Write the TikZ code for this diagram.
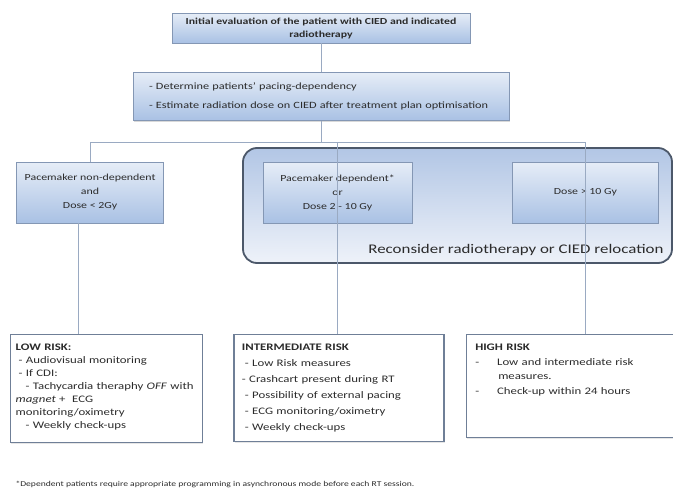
\documentclass[tikz,border=0pt]{standalone}
\usepackage{fontspec}
\setmainfont{Carlito}[FakeStretch=1.28]
\usepackage{xcolor}
\usepackage{tikz}
\usetikzlibrary{shapes,arrows,positioning,fit,backgrounds,shadows}

\definecolor{boxtop}{HTML}{E6EDF7}
\definecolor{boxbot}{HTML}{A9C1E4}
\definecolor{boxline}{HTML}{8497B4}
\definecolor{zonetop}{HTML}{B2C6E5}
\definecolor{zonebot}{HTML}{EEF2F9}
\definecolor{zoneline}{HTML}{4C586A}
\definecolor{riskline}{HTML}{6F7F97}
\definecolor{wire}{HTML}{9AAAC2}
\definecolor{ink}{HTML}{2B2B2B}

\begin{document}
\begin{tikzpicture}[
    x=1pt, y=-1pt,
    text=ink,
    stage/.style={rectangle, draw=boxline, top color=boxtop, bottom color=boxbot, align=center,
        drop shadow={opacity=0.3, shadow xshift=0.8pt, shadow yshift=-1.2pt}},
    zone/.style={rectangle, rounded corners=14pt, draw=zoneline, line width=1.8pt, top color=zonetop, bottom color=zonebot},
    risk/.style={rectangle, draw=riskline, line width=1.3pt, fill=white, align=left, anchor=north west, text height=12pt,
        drop shadow={opacity=0.2, shadow xshift=0.8pt, shadow yshift=-1pt}},
    wire/.style={draw=wire, line width=0.8pt}
]
\useasboundingbox (0,0) rectangle (673,498);

\node[stage, minimum width=298, minimum height=30, font=\bfseries\fontsize{9.2}{13}\selectfont] (init) at (321,28)
    {Initial evaluation of the patient with CIED and indicated\\radiotherapy};
\node[stage, below=29pt of init, minimum height=48, inner xsep=16pt, text width=344pt, align=left, font=\fontsize{9.6}{19}\selectfont] (plan)
    {- Determine patients’ pacing-dependency\\- Estimate radiation dose on CIED after treatment plan optimisation};

\node[zone, minimum width=429, minimum height=115] (relocate) at (457.5,205.5) {};
\node[anchor=base east, font=\fontsize{13.2}{15}\selectfont] (relabel) at (667,253) {Reconsider radiotherapy or CIED relocation};

\node[stage, minimum width=149, minimum height=61, font=\fontsize{9.3}{14}\selectfont] (pd) at (337.5,192.5)
    {Pacemaker dependent*\\or\\Dose 2 - 10 Gy};
\node[stage, left=99pt of pd, minimum width=147, minimum height=61, font=\fontsize{9.3}{14}\selectfont] (nd)
    {Pacemaker non-dependent\\and\\Dose < 2Gy};
\node[stage, right=100pt of pd, minimum width=146, minimum height=61, font=\fontsize{9.3}{14}\selectfont] (hd)
    {Dose > 10 Gy};

\node[risk, inner xsep=5pt, inner ysep=4pt, text width=182pt, text depth=88pt, font=\fontsize{10}{13}\selectfont] (low) at (10,334)
    {\textbf{LOW RISK:}\\
     \hspace*{3pt}- Audiovisual monitoring\\
     \hspace*{3pt}- If CDI:\\
     \hspace*{10pt}- Tachycardia theraphy \textit{OFF} with\\
     \textit{magnet} + \ ECG\\
     monitoring/oximetry\\
     \hspace*{10pt}- Weekly check-ups};
\node[risk, right=30pt of low.north east, anchor=north west, inner xsep=8pt, inner ysep=4pt, text width=194pt, text depth=87pt, font=\fontsize{10}{16}\selectfont] (mid)
    {\textbf{INTERMEDIATE RISK}\\
     \hspace*{3pt}- Low Risk measures\\
     - Crashcart present during RT\\
     \hspace*{3pt}- Possibility of external pacing\\
     \hspace*{3pt}- ECG monitoring/oximetry\\
     \hspace*{3pt}- Weekly check-ups};
\node[risk, right=21pt of mid.north east, anchor=north west, inner xsep=9pt, inner ysep=4pt, text width=190pt, text depth=83pt, font=\fontsize{10}{14.5}\selectfont] (high)
    {\textbf{HIGH RISK}\\
     -\hspace{18pt}Low and intermediate risk\\
     \hspace*{23pt}measures.\\
     -\hspace{18pt}Check-up within 24 hours};

\node[anchor=base west, font=\fontsize{7.5}{9}\selectfont] (note) at (12,486)
    {*Dependent patients require appropriate programming in asynchronous mode before each RT session.};

\coordinate (bus) at (0,142);
\draw[wire] (init.south) -- (plan.north);
\draw[wire] (plan.south) -- (plan.south |- bus);
\draw[wire] (nd.north |- bus) -- (hd.north |- bus);
\draw[wire] (nd.north |- bus) -- (nd.north);
\draw[wire] (pd.north |- bus) -- (pd.north |- mid.north);
\draw[wire] (hd.north |- bus) -- (hd.north |- high.north);
\draw[wire] ([xshift=-12pt]nd.south) -- ([xshift=-12pt]nd.south |- low.north);
\end{tikzpicture}
\end{document}
